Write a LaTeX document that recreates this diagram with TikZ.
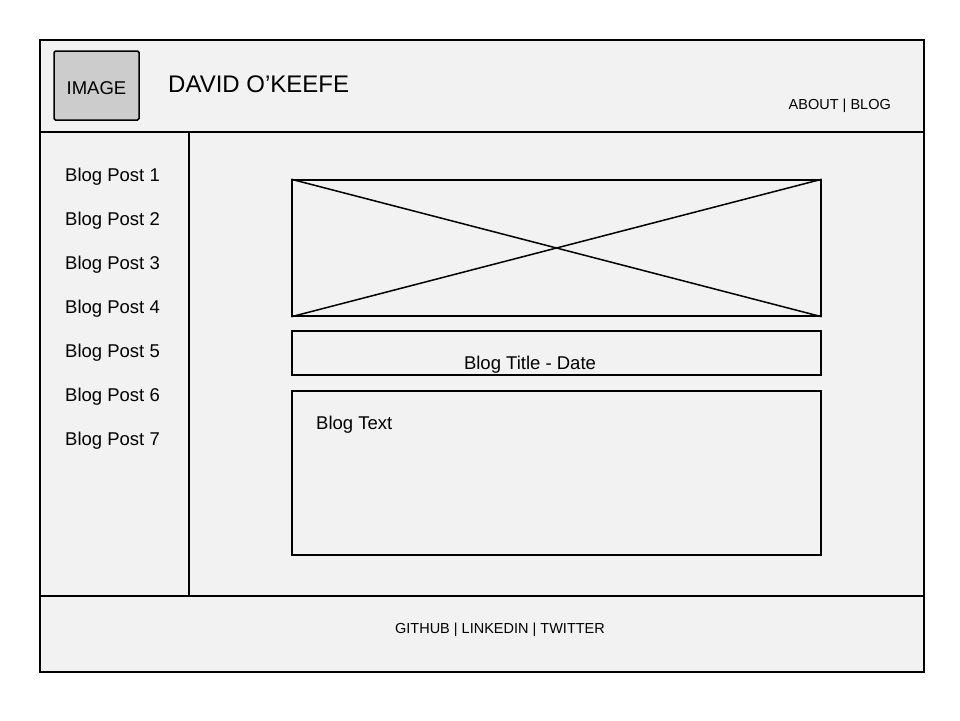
\documentclass[tikz,border=0pt]{standalone}
\usepackage{fontspec}
\setmainfont{Liberation Sans}
\begin{document}
\begin{tikzpicture}[x=1pt,y=-1pt,
  panel/.style={draw=black,line width=1.6pt,fill=pagegray},
  box/.style={draw=black,line width=1.5pt,fill=pagegray,inner sep=0pt},
  lbl/.style={inner sep=0pt,text=black},
  big/.style={lbl,font=\fontsize{24}{26}\selectfont},
  mid/.style={lbl,font=\fontsize{18.5}{20}\selectfont},
  small/.style={lbl,font=\fontsize{14.5}{16}\selectfont}]
\definecolor{pagegray}{HTML}{F2F2F2}
\useasboundingbox (0,0) rectangle (960,720);
\fill[white] (0,0) rectangle (960,720);
% page regions
\draw[panel] (40,40) rectangle (924,132);
\draw[panel] (40,132) rectangle (189,596);
\draw[panel] (189,132) rectangle (924,596);
\draw[panel] (40,596) rectangle (924,672);
% header
\node[box,fill=black!20,rounded corners=1.5pt,minimum width=85pt,minimum height=69pt] (img) at (96.5,85.5) {};
\node[mid] at (96.5,88) {IMAGE};
\node[big,anchor=west] (name) at (168,84.5) {DAVID O’KEEFE};
\node[small,anchor=east] (nav) at (891,106) {ABOUT | BLOG};
% sidebar
\foreach \i/\y in {1/174,2/218,3/262,4/306,5/350,6/394,7/438}
  \node[mid,anchor=west] (post\i) at (65,\y+2.5) {Blog Post \i};
% content
\node[box,minimum width=529pt,minimum height=136pt] (hero) at (556.5,248) {};
\draw[line width=1.5pt] (hero.north west) -- (hero.south east)
  (hero.south west) -- (hero.north east);
\node[box,minimum width=529pt,minimum height=44pt] (title) at (556.5,353) {};
\node[mid] at (530,364.5) {Blog Title - Date};
\node[box,minimum width=529pt,minimum height=164pt] (body) at (556.5,473) {};
\node[mid,anchor=west] at (316,424.5) {Blog Text};
% footer
\node[small] (links) at (500,630) {GITHUB | LINKEDIN | TWITTER};
\end{tikzpicture}
\end{document}
